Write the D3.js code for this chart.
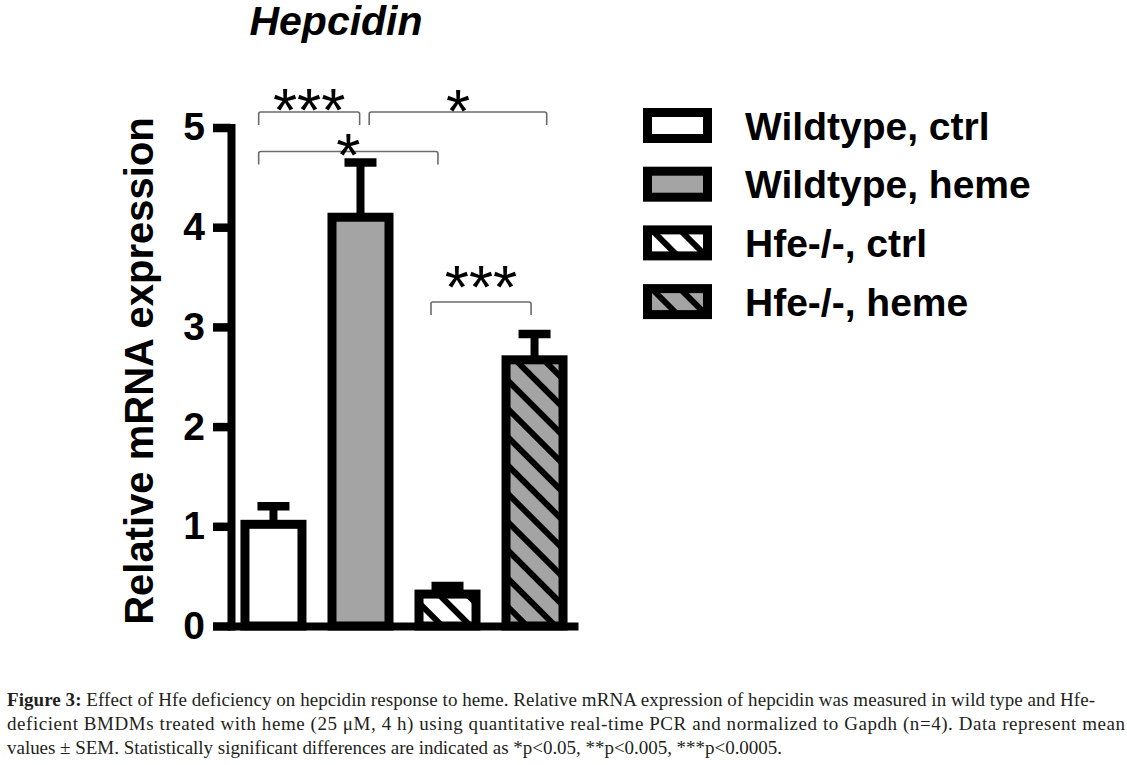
<!DOCTYPE html>
<html>
<head>
<meta charset="utf-8">
<script src="https://cdn.jsdelivr.net/npm/d3@7"></script>
<style>
  body { margin: 0; background: #fff; }
  svg { display: block; }
  .sans { font-family: 'Liberation Sans', Arial, sans-serif; }
  .serif { font-family: 'Liberation Serif', 'Times New Roman', serif; }
</style>
</head>
<body>
<svg id="chart" width="1127" height="765"></svg>
<script>
const categories = ['Wildtype, ctrl', 'Wildtype, heme', 'Hfe-/-, ctrl', 'Hfe-/-, heme'];
const means = [1.02, 4.1, 0.32, 2.67];
const sems = [0.18, 0.55, 0.08, 0.26];
const yTicks = [0, 1, 2, 3, 4, 5];

// significance brackets, positions given as category index and y value
const brackets = [
  { from: -0.17, to: 0.99, y: 5.155, labelY: 5.32, label: '***' },
  { from: 1.1, to: 3.14, y: 5.155, labelY: 5.31, label: '*' },
  { from: -0.17, to: 1.89, y: 4.76, labelY: 4.87, label: '*' },
  { from: 1.81, to: 2.96, y: 3.25, labelY: 3.55, label: '***' },
];

const captionLines = [
  ['Figure 3:', ' Effect of Hfe deficiency on hepcidin response to heme. Relative mRNA expression of hepcidin was measured in wild type and Hfe-'],
  ['', 'deficient BMDMs treated with heme (25 μM, 4 h) using quantitative real-time PCR and normalized to Gapdh (n=4). Data represent mean'],
  ['', 'values ± SEM. Statistically significant differences are indicated as *p<0.05, **p<0.005, ***p<0.0005.'],
];

const fills = ['#ffffff', '#a4a4a4', 'url(#hatchWhite)', 'url(#hatchGray)'];

const svg = d3.select('#chart');

// hatch patterns
const defs = svg.append('defs');
const addHatch = (id, bg) => {
  const p = defs
    .append('pattern')
    .attr('id', id)
    .attr('patternUnits', 'userSpaceOnUse')
    .attr('width', 20)
    .attr('height', 20)
    .attr('patternTransform', 'rotate(-45)');
  p.append('rect').attr('width', 20).attr('height', 20).attr('fill', bg);
  p.append('line')
    .attr('x1', 10).attr('x2', 10)
    .attr('y1', -2).attr('y2', 22)
    .attr('stroke', '#000')
    .attr('stroke-width', 6);
};
addHatch('hatchWhite', '#ffffff');
addHatch('hatchGray', '#a4a4a4');

const xScale = d3
  .scaleBand()
  .domain(categories)
  .range([230, 578])
  .paddingInner(0.345)
  .paddingOuter(0.172);

const yScale = d3
  .scaleLinear()
  .domain([0, 5])
  .range([626, 127.5]);

const bw = xScale.bandwidth();
const center = c => xScale(c) + bw / 2;
const idxScale = d3
  .scaleLinear()
  .domain([0, categories.length - 1])
  .range([center(categories[0]), center(categories[categories.length - 1])]);

// title
svg.append('text')
  .attr('class', 'sans')
  .attr('x', 336)
  .attr('y', 35)
  .attr('text-anchor', 'middle')
  .style('font-size', '41px')
  .style('font-weight', 'bold')
  .style('font-style', 'italic')
  .text('Hepcidin');

// y axis label
svg.append('text')
  .attr('class', 'sans')
  .attr('transform', 'rotate(-90)')
  .attr('x', -371)
  .attr('y', 153)
  .attr('text-anchor', 'middle')
  .style('font-size', '40px')
  .style('font-weight', 'bold')
  .text('Relative mRNA expression');

const data = categories.map((c, i) => ({ cat: c, mean: means[i], sem: sems[i], fill: fills[i] }));

// error bars (upper only)
const err = svg.append('g');
err.selectAll('.stem')
  .data(data)
  .enter()
  .append('line')
  .attr('x1', d => center(d.cat))
  .attr('x2', d => center(d.cat))
  .attr('y1', d => yScale(d.mean))
  .attr('y2', d => yScale(d.mean + d.sem))
  .attr('stroke', '#000')
  .attr('stroke-width', 8);
err.selectAll('.cap')
  .data(data)
  .enter()
  .append('line')
  .attr('x1', d => center(d.cat) - 16)
  .attr('x2', d => center(d.cat) + 16)
  .attr('y1', d => yScale(d.mean + d.sem))
  .attr('y2', d => yScale(d.mean + d.sem))
  .attr('stroke', '#000')
  .attr('stroke-width', 8.5);

// bars
svg.selectAll('.bar')
  .data(data)
  .enter()
  .append('rect')
  .classed('bar', true)
  .attr('x', d => xScale(d.cat))
  .attr('width', bw)
  .attr('y', d => yScale(d.mean))
  .attr('height', d => yScale(0) - yScale(d.mean))
  .attr('fill', d => d.fill)
  .attr('stroke', '#000')
  .attr('stroke-width', 9);

// axes
const yAxis = d3
  .axisLeft(yScale)
  .tickValues(yTicks)
  .tickFormat(d3.format('d'))
  .tickSize(18)
  .tickSizeOuter(0)
  .tickPadding(8);
const yG = svg.append('g')
  .attr('transform', 'translate(231,0)')
  .call(yAxis);
yG.select('.domain').attr('stroke-width', 8).attr('stroke-linecap', 'square');
yG.selectAll('.tick line').attr('stroke-width', 8.5);
yG.selectAll('.tick text')
  .style('font-size', '39px')
  .style('font-weight', 'bold')
  .style('font-family', "'Liberation Sans', Arial, sans-serif")
  .attr('fill', '#000');

const xAxis = d3.axisBottom(xScale).tickSize(0).tickSizeOuter(0).tickFormat('');
const xG = svg.append('g')
  .attr('transform', 'translate(0,626)')
  .call(xAxis);
xG.select('.domain').attr('stroke-width', 8);

// significance brackets
const br = svg.selectAll('.bracket')
  .data(brackets)
  .enter()
  .append('g')
  .classed('bracket', true);
br.append('path')
  .attr('d', d => {
    const x1 = idxScale(d.from);
    const x2 = idxScale(d.to);
    const y = yScale(d.y);
    return 'M' + x1 + ',' + (y + 13) + 'V' + (y + 2) + 'Q' + x1 + ',' + y + ' ' + (x1 + 2) + ',' + y +
      'H' + (x2 - 2) + 'Q' + x2 + ',' + y + ' ' + x2 + ',' + (y + 2) + 'V' + (y + 13);
  })
  .attr('fill', 'none')
  .attr('stroke', '#6b6b6b')
  .attr('stroke-width', 1.6);
br.append('text')
  .attr('class', 'sans')
  .attr('x', d => (idxScale(d.from) + idxScale(d.to)) / 2)
  .attr('y', d => yScale(d.labelY))
  .attr('dy', '0.575em')
  .attr('text-anchor', 'middle')
  .style('font-size', '62px')
  .text(d => d.label);

// legend
const legend = svg.selectAll('.legend')
  .data(data)
  .enter()
  .append('g')
  .classed('legend', true)
  .attr('transform', (d, i) => 'translate(0,' + (125.5 + i * 58.7) + ')');
legend.append('rect')
  .attr('x', 647.5)
  .attr('y', -13)
  .attr('width', 60)
  .attr('height', 26)
  .attr('fill', d => d.fill)
  .attr('stroke', '#000')
  .attr('stroke-width', 9);
legend.append('text')
  .attr('class', 'sans')
  .attr('x', 745)
  .attr('y', 14)
  .style('font-size', '39px')
  .style('font-weight', 'bold')
  .text(d => d.cat);

// caption
const captionEnds = [1095, 1125, 782];
captionLines.forEach((line, i) => {
  const t = svg.append('text')
    .attr('class', 'serif')
    .attr('x', 7)
    .attr('y', 706 + i * 24)
    .attr('textLength', captionEnds[i] - 7)
    .attr('lengthAdjust', 'spacing')
    .style('font-size', '19px')
    .attr('fill', '#231f20');
  if (line[0]) t.append('tspan').style('font-weight', 'bold').text(line[0]);
  t.append('tspan').text(line[1]);
});
</script>
</body>
</html>
